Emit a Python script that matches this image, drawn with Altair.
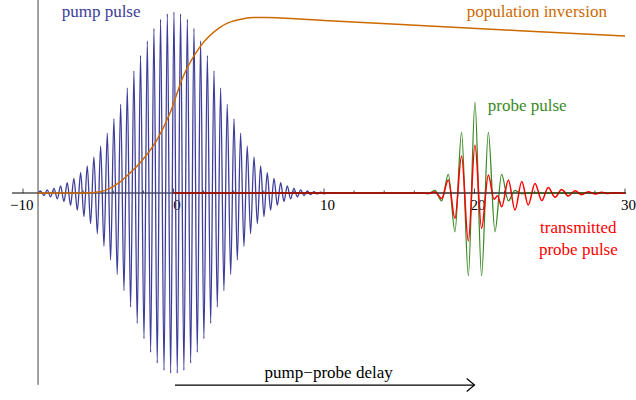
import altair as alt
import pandas as pd

# ---- scale domains (data units) ----
X_DOMAIN = [-11.528, 30.731]
Y_DOMAIN = [-1.1436, 1.0663]

# ---- pump pulse: extrema ----
pump_x = [-9.0, -8.83, -8.61, -8.39, -8.17, -7.94, -7.72, -7.50, -7.28, -7.06, -6.84,
          -6.62, -6.39, -6.17, -5.95, -5.73, -5.51, -5.29, -5.06, -4.84, -4.62,
          -4.40, -4.18, -3.96, -3.74, -3.51, -3.29, -3.07, -2.85, -2.63, -2.41,
          -2.19, -1.96, -1.74, -1.52, -1.30, -1.08, -0.86, -0.63, -0.41, -0.19,
          0.03, 0.25, 0.47, 0.69, 0.92, 1.14, 1.36, 1.58, 1.80, 2.02,
          2.25, 2.47, 2.69, 2.91, 3.13, 3.35, 3.57, 3.80, 4.02, 4.24,
          4.46, 4.68, 4.90, 5.12, 5.35, 5.57, 5.79, 6.01, 6.23, 6.45,
          6.68, 6.90, 7.12, 7.34, 7.56, 7.78, 8.00, 8.23, 8.45, 8.67,
          8.89, 9.11, 9.33, 9.55, 9.78, 10.00, 10.3, 10.6]
pump_y = [0.0, 0.011, -0.014, 0.017, -0.021, 0.026, -0.032, 0.039, -0.047, 0.057, -0.068,
          0.081, -0.095, 0.112, -0.13, 0.15, -0.17, 0.20, -0.225, 0.26, -0.295,
          0.33, -0.37, 0.41, -0.45, 0.49, -0.54, 0.58, -0.63, 0.675, -0.72,
          0.76, -0.805, 0.84, -0.88, 0.91, -0.94, 0.96, -0.98, 0.99, -0.995,
          1.00, -0.995, 0.99, -0.98, 0.96, -0.94, 0.91, -0.88, 0.84, -0.805,
          0.76, -0.72, 0.675, -0.63, 0.58, -0.54, 0.49, -0.45, 0.41, -0.37,
          0.33, -0.295, 0.26, -0.225, 0.20, -0.17, 0.15, -0.13, 0.112, -0.095,
          0.081, -0.068, 0.057, -0.047, 0.039, -0.032, 0.026, -0.021, 0.017, -0.014,
          0.011, -0.009, 0.007, -0.006, 0.005, -0.004, 0.0, 0.0]

# ---- population inversion ----
inv_x = [-9.0, -6.5, -5.5, -4.88, -4.2, -3.55, -2.9, -2.23, -1.1, -0.23, 0.63,
         1.76, 3.09, 3.55, 4.42, 5.28, 6.2, 7.08, 10.0, 16.38, 23.0, 30.0]
inv_y = [0.0, 0.0, 0.002, 0.007, 0.027, 0.061, 0.11, 0.166, 0.293, 0.442, 0.641,
         0.807, 0.915, 0.937, 0.959, 0.969, 0.970, 0.967, 0.953, 0.925, 0.897, 0.867]

# ---- probe pulse ----
probe_x = [0.0, 16.4, 16.93, 17.37, 17.82, 18.26, 18.70, 19.14, 19.59, 20.03,
           20.47, 20.92, 21.36, 21.80, 22.25, 22.69, 23.13, 23.6, 30.0]
probe_y = [0.0, 0.0, -0.004, 0.014, -0.043, 0.103, -0.214, 0.335, -0.457, 0.50,
           -0.457, 0.335, -0.214, 0.103, -0.043, 0.014, -0.004, 0.0, 0.0]

# ---- transmitted probe pulse ----
trans_x = [0.0, 16.4, 16.93, 17.37, 17.82, 18.26, 18.70, 19.14, 19.59, 20.03,
           20.47, 20.92, 21.30, 21.53, 21.81, 22.25, 22.69, 23.14, 23.57, 24.02,
           24.47, 24.90, 25.35, 25.79, 26.23, 26.68, 27.12, 27.56, 28.01, 28.45,
           28.89, 29.34, 29.78, 30.0]
trans_y = [0.0, 0.0, -0.002, 0.005, -0.03, 0.072, -0.14, 0.205, -0.265, 0.265,
           -0.195, 0.10, -0.035, -0.015, -0.076, 0.072, -0.094, 0.063, -0.066, 0.053,
           -0.042, 0.031, -0.024, 0.02, -0.017, 0.013, -0.009, 0.007, -0.006, 0.004,
           -0.003, 0.002, -0.002, 0.0]

# ---- axis ticks / labels ----
major_ticks = [-10, 0, 10, 20, 30]
major_labels = ["−10", "0", "10", "20", "30"]
minor_ticks = [-8, -6, -4, -2, 2, 4, 6, 8, 12, 14, 16, 18, 22, 24, 26, 28]

# ---- annotations (data units) ----
ann_text = ["pump pulse", "population inversion", "probe pulse"]
ann_x = [-7.43, 19.48, 20.88]
ann_y = [0.972, 0.974, 0.455]
ann_color = ["#3D3D99", "#CC6A00", "#3A8A24"]

trans_lab_text = ["transmitted", "probe pulse"]
trans_lab_x = [26.9, 26.9]
trans_lab_y = [-0.223, -0.343]

delay_text = ["pump−probe delay"]
delay_x = [10.31]
delay_y = [-1.024]
arrow_x = [0.1]
arrow_x2 = [20.0]
arrow_y = [-1.061]

haxis_x = [-10.73]
haxis_x2 = [30.07]
vaxis_x = [-9.0]
vaxis_y = [1.0663]
vaxis_y2 = [-1.06]

FONT = "Liberation Serif"

xs = alt.Scale(domain=X_DOMAIN, nice=False, zero=False)
ys = alt.Scale(domain=Y_DOMAIN, nice=False, zero=False)


def X(f="x"):
    return alt.X(f"{f}:Q", scale=xs, axis=None)


def Y(f="y"):
    return alt.Y(f"{f}:Q", scale=ys, axis=None)


# axes
hax = alt.Chart(pd.DataFrame({"x": haxis_x, "x2": haxis_x2, "y": [0.0]})).mark_rule(
    color="#000000", strokeWidth=1).encode(x=X(), x2="x2:Q", y=Y())
vax = alt.Chart(pd.DataFrame({"x": vaxis_x, "y": vaxis_y, "y2": vaxis_y2})).mark_rule(
    color="#444444", strokeWidth=1).encode(x=X(), y=Y(), y2="y2:Q")

major_df = pd.DataFrame({"x": major_ticks, "y": [0.0] * len(major_ticks), "t": major_labels})
minor_df = pd.DataFrame({"x": minor_ticks, "y": [0.0] * len(minor_ticks)})

maj = alt.Chart(major_df).mark_tick(orient="vertical", size=4.5, thickness=1,
                                    yOffset=-2.25, color="#000000").encode(x=X(), y=Y())
mnr = alt.Chart(minor_df).mark_tick(orient="vertical", size=2.5, thickness=1,
                                    yOffset=-1.25, color="#000000").encode(x=X(), y=Y())
labs = alt.Chart(major_df[major_df.t != "−10"]).mark_text(
    font=FONT, fontSize=15, dx=3.5, dy=16.5, baseline="alphabetic", align="center",
    color="#000000").encode(x=X(), y=Y(), text="t:N")
labm = alt.Chart(major_df[major_df.t == "−10"]).mark_text(
    font=FONT, fontSize=15, dx=-1.2, dy=16.5, baseline="alphabetic", align="center",
    color="#000000").encode(x=X(), y=Y(), text="t:N")

# curves
pump = alt.Chart(pd.DataFrame({"x": pump_x, "y": pump_y})).mark_line(
    color="#3D3D99", strokeWidth=1.3, interpolate="monotone").encode(x=X(), y=Y())
inv = alt.Chart(pd.DataFrame({"x": inv_x, "y": inv_y})).mark_line(
    color="#CC6A00", strokeWidth=1.5, interpolate="monotone").encode(x=X(), y=Y())
probe = alt.Chart(pd.DataFrame({"x": probe_x, "y": probe_y})).mark_line(
    color="#3A8A24", strokeWidth=1.3, interpolate="monotone").encode(x=X(), y=Y())
trans = alt.Chart(pd.DataFrame({"x": trans_x, "y": trans_y})).mark_line(
    color="#FF0000", strokeWidth=1.5, interpolate="monotone").encode(x=X(), y=Y())

hax_top = alt.Chart(pd.DataFrame({"x": [0.0], "x2": [30.07], "y": [0.0]})).mark_rule(
    color="#000000", strokeWidth=1, opacity=0.5).encode(x=X(), x2="x2:Q", y=Y())

# annotations
ann = alt.Chart(pd.DataFrame({"x": ann_x, "y": ann_y, "t": ann_text, "c": ann_color})).mark_text(
    font=FONT, fontSize=17, align="left", baseline="alphabetic").encode(
    x=X(), y=Y(), text="t:N", color=alt.Color("c:N", scale=None))
tlab = alt.Chart(pd.DataFrame({"x": trans_lab_x, "y": trans_lab_y, "t": trans_lab_text})).mark_text(
    font=FONT, fontSize=17, align="center", baseline="alphabetic", color="#FF0000").encode(
    x=X(), y=Y(), text="t:N")
dlab = alt.Chart(pd.DataFrame({"x": delay_x, "y": delay_y, "t": delay_text})).mark_text(
    font=FONT, fontSize=17, align="center", baseline="alphabetic", color="#000000").encode(
    x=X(), y=Y(), text="t:N")
arrow = alt.Chart(pd.DataFrame({"x": arrow_x, "x2": arrow_x2, "y": arrow_y})).mark_rule(
    color="#000000", strokeWidth=1.2).encode(x=X(), x2="x2:Q", y=Y())
head = alt.Chart(pd.DataFrame({"x": arrow_x2, "y": arrow_y})).mark_point(
    shape="M-1.2,-1L0,0L-1.2,1", filled=False, size=169, strokeWidth=1.2,
    color="#000000", opacity=1).encode(x=X(), y=Y())

chart = alt.layer(
    hax, vax, maj, mnr, labs, labm,
    pump, inv, probe, trans, hax_top,
    ann, tlab, dlab, arrow, head
).properties(width=636, height=400, padding=0, autosize="none").configure_view(stroke=None)

chart.save("out.html", embed_options={"renderer": "svg", "actions": False})
